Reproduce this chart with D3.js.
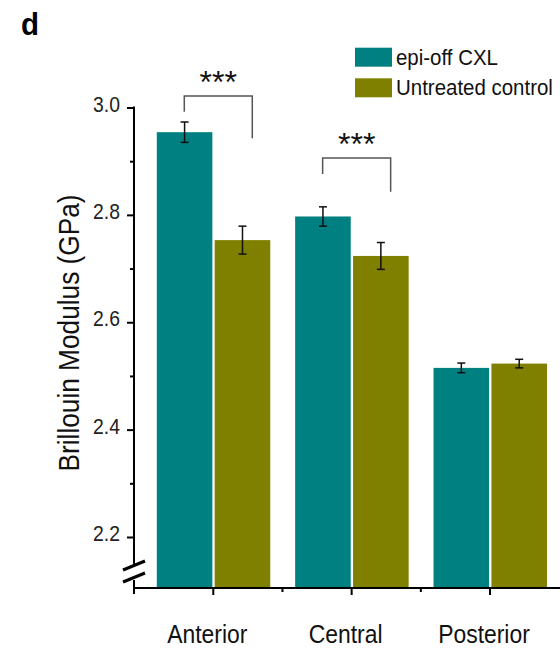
<!DOCTYPE html>
<html>
<head>
<meta charset="utf-8">
<script src="https://cdn.jsdelivr.net/npm/d3@7"></script>
<style>
  html, body { margin: 0; padding: 0; background: #fff; }
  svg { display: block; font-family: "Liberation Sans", Arial, sans-serif; }
</style>
</head>
<body>
<svg id="chart" width="560" height="648"></svg>
<script>
const categories = ["Anterior", "Central", "Posterior"];
const series = ["epi-off CXL", "Untreated control"];
const cxlValues = [2.954, 2.797, 2.515];
const cxlErrors = [0.019, 0.018, 0.009];
const ctrlValues = [2.753, 2.7235, 2.523];
const ctrlErrors = [0.026, 0.025, 0.008];
const majorTicks = [2.2, 2.4, 2.6, 2.8, 3.0];
const minorTicks = [2.3, 2.5, 2.7, 2.9];
const sigCategories = ["Anterior", "Central"];
const sigLabels = ["***", "***"];
const colors = ["#008080", "#808000"];

const svg = d3.select("#chart");
const baseY = 588, axisX = 134;

// condensed text helper
function txt(x, y, str, size, opts = {}) {
  const sx = opts.sx || 0.88;
  const rot = opts.rotate ? ` rotate(${opts.rotate})` : "";
  return svg.append("text")
    .attr("transform", `translate(${x},${y})${rot} scale(${sx},1)`)
    .attr("text-anchor", opts.anchor || "start")
    .attr("font-size", size)
    .attr("font-weight", opts.weight || "normal")
    .attr("fill", opts.fill || "#111")
    .text(str);
}

const y = d3.scaleLinear().domain([2.105, 3.0]).range([baseY, 107.5]);
const x = d3.scaleBand().domain(categories).range([144.1, 559.2]).padding(0);
const xs = d3.scaleBand().domain(series).range([-56.5, 57]).paddingInner(0.04);
const center = c => x(c) + x.bandwidth() / 2;

const rows = categories.map((c, i) => ({
  c,
  vals: [
    { s: series[0], v: cxlValues[i], e: cxlErrors[i] },
    { s: series[1], v: ctrlValues[i], e: ctrlErrors[i] }
  ]
}));

// bars + error bars
const g = svg.append("g");
rows.forEach(r => {
  r.vals.forEach((d, j) => {
    const bx = center(r.c) + xs(d.s);
    g.append("rect")
      .attr("x", bx).attr("y", y(d.v))
      .attr("width", xs.bandwidth()).attr("height", baseY - y(d.v))
      .attr("fill", colors[j]);
    const cx = bx + xs.bandwidth() / 2;
    const eg = g.append("g").attr("stroke", "#111").attr("stroke-width", 1.5);
    eg.append("line").attr("x1", cx).attr("x2", cx).attr("y1", y(d.v + d.e)).attr("y2", y(d.v - d.e));
    eg.append("line").attr("x1", cx - 4).attr("x2", cx + 4).attr("y1", y(d.v + d.e)).attr("y2", y(d.v + d.e));
    eg.append("line").attr("x1", cx - 4).attr("x2", cx + 4).attr("y1", y(d.v - d.e)).attr("y2", y(d.v - d.e));
  });
});

// y axis ticks
const yAxis = d3.axisLeft(y).tickValues(majorTicks).tickSize(7).tickFormat("");
const ya = svg.append("g").attr("transform", `translate(${axisX},0)`).call(yAxis);
ya.select(".domain").remove();
ya.selectAll(".tick line").attr("stroke", "#000").attr("stroke-width", 2);
majorTicks.forEach(t => txt(120, y(t) + 4, d3.format(".1f")(t), 22, { anchor: "end", sx: 0.88, fill: "#222" }));
const yMinor = d3.axisLeft(y).tickValues(minorTicks).tickSize(4).tickFormat("");
const ym = svg.append("g").attr("transform", `translate(${axisX},0)`).call(yMinor);
ym.select(".domain").remove();
ym.selectAll(".tick line").attr("stroke", "#000").attr("stroke-width", 2);

// y axis line with break
svg.append("line").attr("x1", axisX).attr("x2", axisX).attr("y1", y(3.0) - 1).attr("y2", 564)
  .attr("stroke", "#000").attr("stroke-width", 2);
svg.append("line").attr("x1", axisX).attr("x2", axisX).attr("y1", 580).attr("y2", 594)
  .attr("stroke", "#000").attr("stroke-width", 2);
[[123, 570, 145, 561], [123, 582, 145, 573]].forEach(p => {
  svg.append("line").attr("x1", p[0]).attr("y1", p[1]).attr("x2", p[2]).attr("y2", p[3])
    .attr("stroke", "#000").attr("stroke-width", 3);
});

// x axis
const xAxis = d3.axisBottom(x).tickSize(7).tickFormat("").tickValues(categories);
const xa = svg.append("g").attr("transform", `translate(0,${baseY})`).call(xAxis);
xa.select(".domain").remove();
xa.selectAll(".tick").attr("transform", d => `translate(${center(d)},0)`);
xa.selectAll(".tick line").attr("stroke", "#000").attr("stroke-width", 2);
svg.append("line").attr("x1", axisX - 1).attr("x2", 560).attr("y1", baseY).attr("y2", baseY)
  .attr("stroke", "#000").attr("stroke-width", 2);
categories.slice(1).forEach(c => {
  svg.append("line").attr("x1", x(c)).attr("x2", x(c)).attr("y1", baseY).attr("y2", baseY + 4)
    .attr("stroke", "#000").attr("stroke-width", 2);
});
categories.forEach(c => txt(center(c) - 6, 643, c, 26, { anchor: "middle", sx: 0.88 }));

// y label
txt(78.5, 333, "Brillouin Modulus (GPa)", 30, { anchor: "middle", rotate: -90, sx: 0.875 });

// significance brackets
const bracketTop = { Anterior: 96, Central: 158 };
const bracketLeftEnd = { Anterior: 111.7, Central: 174 };
const bracketRightEnd = { Anterior: 138.3, Central: 191.7 };
sigCategories.forEach((cat, i) => {
  const c = center(cat);
  const lx = c - 29, rx = c + 39;
  const top = bracketTop[cat];
  svg.append("path")
    .attr("d", `M${lx},${bracketLeftEnd[cat]}V${top}H${rx}V${bracketRightEnd[cat]}`)
    .attr("fill", "none").attr("stroke", "#555").attr("stroke-width", 1.5);
  txt((lx + rx) / 2, top - 3, sigLabels[i], 32, { anchor: "middle", sx: 1 });
});

// legend
series.forEach((s, i) => {
  const ly = 47.7 + i * 30.6;
  svg.append("rect").attr("x", 355).attr("y", ly).attr("width", 37).attr("height", 19).attr("fill", colors[i]);
  txt(396, ly + 17, s, 22, { sx: 0.93 });
});

// panel label
txt(21, 35, "d", 31, { weight: "bold", sx: 0.95, fill: "#000" });
</script>
</body>
</html>
